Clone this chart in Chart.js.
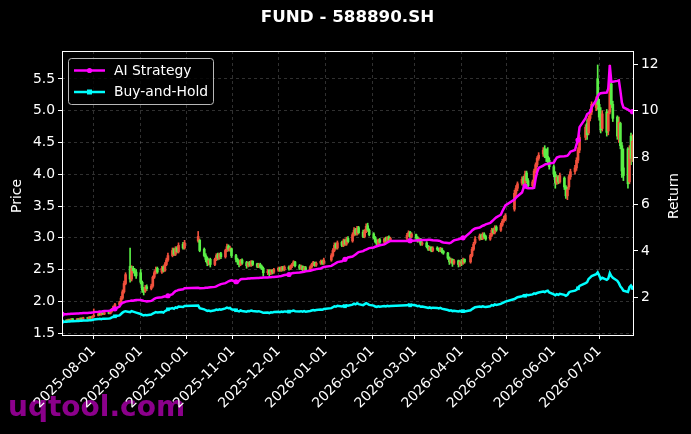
<!DOCTYPE html>
<html>
<head>
<meta charset="utf-8">
<title>FUND - 588890.SH</title>
<script src="https://cdn.jsdelivr.net/npm/chart.js@4.4.1/dist/chart.umd.min.js"></script>
<style>
  html, body { margin: 0; padding: 0; background: #000; }
  canvas { display: block; }
</style>
</head>
<body>
<canvas id="grafik" width="691" height="434"></canvas>
<script>
// --- veri ---------------------------------------------------------------
// ilk ve son islem gunu, tatiller (hafta sonlari zaten atlaniyor)
const ilkGun = '2025-07-11';
const sonGun = '2026-07-24';
const tatiller = [
  '2025-10-01', '2025-10-02', '2025-10-03', '2025-10-06', '2025-10-07', '2025-10-08',
  '2026-01-01', '2026-01-02',
  '2026-02-16', '2026-02-17', '2026-02-18', '2026-02-19', '2026-02-20', '2026-02-23',
  '2026-04-06', '2026-05-01', '2026-05-04', '2026-05-05', '2026-06-19'
];

// x ekseni etiketleri
const ayEtiketleri = [
  '2025-08-01', '2025-09-01', '2025-10-01', '2025-11-01', '2025-12-01', '2026-01-01',
  '2026-02-01', '2026-03-01', '2026-04-01', '2026-05-01', '2026-06-01', '2026-07-01'
];

// gunluk mum verisi (her satir bir ay)
const acilis = [
  1.69,1.70,1.69,1.71,1.70,1.72,1.71,1.72,1.71,1.73,1.72,1.74,1.73,1.75,1.74,
  1.76,1.78,1.80,1.79,1.81,1.80,1.82,1.81,1.84,1.88,1.92,1.95,1.98,2.05,2.15,2.28,2.55,2.35,2.52,2.48,2.46,
  2.45,2.30,2.20,2.16,2.23,2.20,2.24,2.38,2.45,2.52,2.46,2.54,2.48,2.58,2.65,2.72,2.82,2.74,2.84,2.78,2.90,2.84,
  2.95,2.96,2.82,2.72,2.68,2.60,2.66,2.58,2.66,2.73,2.68,2.75,2.70,2.80,2.87,2.80,2.83,
  2.72,2.66,2.63,2.58,2.65,2.61,2.56,2.61,2.57,2.63,2.59,2.55,2.58,2.55,2.52,2.45,2.49,2.44,2.49,2.46,
  2.49,2.52,2.49,2.53,2.50,2.54,2.51,2.55,2.58,2.62,2.56,2.52,2.55,2.50,2.53,2.50,2.54,2.58,2.61,2.57,2.60,2.63,2.60,
  2.65,2.72,2.80,2.90,2.84,2.93,2.88,2.96,2.90,2.99,2.95,3.05,3.13,3.06,3.16,3.09,3.02,3.10,3.19,3.12,
  3.06,3.00,2.95,2.90,2.97,2.93,2.99,2.95,3.01,2.96,2.99,3.04,3.09,3.02,
  3.05,3.00,2.95,2.98,2.90,2.92,2.86,2.82,2.85,2.80,2.84,2.82,2.80,2.83,2.79,2.76,2.68,2.62,2.66,2.60,2.64,2.58,
  2.62,2.60,2.66,2.62,2.72,2.82,2.92,2.98,3.04,2.99,3.06,3.02,2.98,3.04,3.13,3.08,3.17,3.12,3.20,3.26,3.29,
  3.45,3.70,3.78,3.86,3.94,3.86,4.02,3.90,3.82,3.88,4.05,4.15,4.25,4.32,4.40,4.32,4.28,4.22,
  4.12,4.00,3.86,3.96,3.88,3.94,3.80,3.66,3.80,3.96,4.04,4.10,4.22,4.38,4.58,4.80,4.65,4.88,4.98,5.05,5.50,
  5.10,4.92,4.72,4.98,4.68,4.98,5.42,5.10,4.90,4.58,4.80,4.45,4.10,4.40,3.88,4.60,4.25,4.50
];
const yuksek = [
  1.71,1.71,1.72,1.72,1.73,1.73,1.73,1.73,1.74,1.74,1.75,1.75,1.76,1.76,1.77,
  1.88,1.81,1.81,1.82,1.82,1.83,1.83,1.85,1.89,1.93,1.97,2.00,2.08,2.18,2.32,2.45,2.84,2.56,2.55,2.52,2.50,
  2.50,2.32,2.22,2.25,2.26,2.27,2.40,2.48,2.54,2.54,2.55,2.56,2.61,2.68,2.76,2.84,2.84,2.86,2.86,2.92,2.93,2.96,
  3.10,2.98,2.84,2.75,2.70,2.67,2.68,2.68,2.75,2.76,2.76,2.77,2.82,2.90,2.89,2.87,2.84,
  2.74,2.68,2.65,2.66,2.67,2.63,2.62,2.63,2.64,2.64,2.60,2.60,2.60,2.57,2.54,2.50,2.50,2.50,2.50,2.52,
  2.54,2.54,2.55,2.55,2.56,2.56,2.57,2.60,2.64,2.63,2.58,2.57,2.56,2.55,2.55,2.56,2.60,2.63,2.62,2.62,2.65,2.65,2.68,
  2.75,2.83,2.92,2.92,2.95,2.95,2.98,2.98,3.01,3.02,3.08,3.16,3.15,3.18,3.18,3.12,3.13,3.22,3.23,3.14,
  3.08,3.02,2.97,2.98,2.99,3.00,3.01,3.02,3.03,3.01,3.07,3.11,3.10,3.08,
  3.06,3.02,3.00,2.99,2.94,2.94,2.88,2.87,2.86,2.86,2.86,2.84,2.85,2.84,2.80,2.77,2.70,2.68,2.67,2.66,2.65,2.64,
  2.66,2.68,2.67,2.74,2.85,2.93,3.02,3.06,3.06,3.08,3.08,3.04,3.07,3.15,3.15,3.19,3.19,3.23,3.29,3.34,3.38,
  3.75,3.82,3.88,3.96,3.97,4.05,4.05,3.93,3.91,4.08,4.18,4.28,4.34,4.42,4.45,4.40,4.42,4.26,
  4.15,4.04,3.98,3.98,4.02,3.96,3.82,3.80,3.99,4.08,4.14,4.26,4.42,4.62,4.78,4.86,4.92,5.02,5.14,5.22,5.72,
  5.18,5.05,5.00,5.02,5.00,5.72,5.45,5.15,4.92,4.90,4.82,4.50,4.40,4.42,4.45,4.65,4.62,4.58
];
const dusuk = [
  1.68,1.68,1.68,1.69,1.69,1.70,1.70,1.70,1.70,1.71,1.71,1.72,1.72,1.73,1.73,
  1.75,1.77,1.78,1.78,1.79,1.79,1.80,1.80,1.83,1.87,1.91,1.94,1.97,2.03,2.13,2.26,2.30,2.32,2.45,2.40,2.36,
  2.27,2.14,2.10,2.14,2.17,2.18,2.22,2.36,2.43,2.44,2.44,2.46,2.47,2.56,2.63,2.70,2.72,2.72,2.76,2.76,2.82,2.82,
  2.93,2.78,2.70,2.62,2.56,2.57,2.54,2.56,2.64,2.65,2.66,2.67,2.68,2.78,2.79,2.79,2.69,
  2.62,2.58,2.54,2.56,2.58,2.52,2.54,2.55,2.55,2.56,2.53,2.53,2.52,2.50,2.40,2.42,2.39,2.42,2.43,2.44,
  2.47,2.47,2.47,2.48,2.48,2.49,2.50,2.53,2.56,2.54,2.50,2.50,2.48,2.48,2.47,2.48,2.52,2.56,2.55,2.55,2.58,2.58,2.58,
  2.63,2.70,2.78,2.82,2.82,2.86,2.86,2.88,2.88,2.92,2.93,3.03,3.04,3.04,3.06,3.00,3.00,3.08,3.10,3.03,
  2.98,2.92,2.87,2.88,2.91,2.91,2.93,2.93,2.94,2.94,2.97,3.02,3.00,3.00,
  2.97,2.93,2.93,2.88,2.88,2.84,2.80,2.80,2.78,2.78,2.80,2.78,2.78,2.76,2.74,2.66,2.58,2.60,2.55,2.58,2.54,2.55,
  2.56,2.58,2.60,2.60,2.70,2.80,2.90,2.96,2.97,2.97,2.99,2.96,2.96,3.02,3.06,3.06,3.10,3.10,3.18,3.24,3.27,
  3.42,3.66,3.74,3.83,3.84,3.84,3.86,3.78,3.79,3.86,4.02,4.12,4.22,4.28,4.26,4.20,4.15,4.08,
  3.96,3.78,3.84,3.85,3.86,3.76,3.62,3.60,3.76,3.92,4.00,4.06,4.18,4.34,4.54,4.55,4.62,4.84,4.94,5.00,5.02,
  4.85,4.65,4.68,4.60,4.62,4.95,5.05,4.83,4.55,4.50,4.40,3.95,3.90,3.78,3.85,4.15,4.20,4.10
];
const kapanis = [
  1.70,1.69,1.71,1.70,1.72,1.71,1.72,1.71,1.73,1.72,1.74,1.73,1.75,1.74,1.76,
  1.78,1.80,1.79,1.81,1.80,1.82,1.81,1.84,1.88,1.92,1.95,1.98,2.05,2.15,2.28,2.42,2.35,2.52,2.48,2.44,2.40,
  2.30,2.18,2.15,2.22,2.20,2.24,2.38,2.45,2.50,2.46,2.52,2.48,2.58,2.65,2.72,2.80,2.74,2.82,2.78,2.88,2.84,2.92,
  3.02,2.80,2.72,2.66,2.60,2.64,2.58,2.66,2.72,2.68,2.74,2.70,2.80,2.86,2.82,2.84,2.72,
  2.66,2.62,2.58,2.64,2.60,2.56,2.60,2.57,2.62,2.58,2.55,2.58,2.54,2.52,2.45,2.48,2.44,2.48,2.46,2.50,
  2.52,2.49,2.53,2.50,2.54,2.51,2.55,2.58,2.62,2.56,2.52,2.55,2.50,2.53,2.49,2.54,2.58,2.61,2.57,2.60,2.63,2.60,2.65,
  2.72,2.80,2.88,2.84,2.92,2.88,2.95,2.90,2.98,2.94,3.05,3.12,3.06,3.15,3.08,3.02,3.10,3.18,3.12,3.05,
  3.00,2.94,2.90,2.96,2.93,2.98,2.95,3.00,2.96,2.99,3.04,3.08,3.02,3.06,
  3.00,2.95,2.98,2.90,2.92,2.86,2.82,2.85,2.80,2.84,2.82,2.80,2.83,2.78,2.76,2.68,2.62,2.66,2.60,2.64,2.58,2.62,
  2.60,2.65,2.62,2.72,2.82,2.90,2.98,3.03,2.99,3.05,3.01,2.98,3.04,3.12,3.08,3.16,3.12,3.20,3.26,3.30,3.35,
  3.70,3.78,3.85,3.92,3.86,4.00,3.90,3.82,3.88,4.05,4.15,4.25,4.30,4.38,4.30,4.26,4.20,4.12,
  4.00,3.86,3.95,3.88,3.98,3.80,3.66,3.76,3.96,4.04,4.10,4.22,4.38,4.58,4.74,4.62,4.88,4.98,5.10,5.18,5.10,
  4.90,4.70,4.95,4.66,4.96,5.40,5.10,4.88,4.60,4.82,4.45,4.05,3.98,3.85,4.38,4.25,4.52,4.20
];

// getiri egrileri (sag eksen)
const aiStrateji = [
  1.29,1.29,1.30,1.30,1.31,1.31,1.32,1.32,1.33,1.33,1.34,1.34,1.35,1.35,1.36,
  1.38,1.40,1.41,1.40,1.42,1.43,1.44,1.45,1.48,1.50,1.52,1.62,1.72,1.78,1.80,1.83,1.86,1.88,1.87,1.89,1.90,
  1.90,1.88,1.86,1.85,1.84,1.86,1.90,1.95,1.98,2.00,2.02,2.04,2.06,2.04,2.08,2.15,2.22,2.28,2.30,2.33,2.36,2.40,
  2.42,2.40,2.41,2.42,2.42,2.43,2.44,2.46,2.48,2.52,2.55,2.58,2.62,2.66,2.70,2.72,2.74,
  2.68,2.64,2.72,2.78,2.80,2.81,2.82,2.82,2.83,2.83,2.84,2.84,2.85,2.85,2.86,2.86,2.87,2.87,2.88,2.88,
  2.90,2.92,2.93,2.95,2.97,2.99,3.02,3.04,3.05,3.06,3.08,3.09,3.10,3.11,3.13,3.15,3.17,3.19,3.20,3.22,3.25,3.28,3.31,
  3.36,3.40,3.44,3.48,3.52,3.56,3.60,3.64,3.68,3.72,3.76,3.80,3.85,3.90,3.95,3.99,4.03,4.06,4.09,4.12,
  4.15,4.18,4.20,4.22,4.24,4.28,4.32,4.36,4.40,4.42,4.43,4.43,4.44,4.44,
  4.45,4.46,4.46,4.47,4.47,4.47,4.48,4.48,4.47,4.46,4.45,4.44,4.42,4.38,4.36,4.34,4.33,4.35,4.40,4.45,4.50,4.52,
  4.54,4.56,4.58,4.80,4.88,4.92,4.96,5.00,5.04,5.08,5.10,5.14,5.20,5.26,5.32,5.38,5.44,5.55,5.70,5.82,5.95,
  6.20,6.28,6.34,6.50,6.70,6.78,6.70,6.68,6.68,6.70,7.10,7.38,7.55,7.65,7.70,7.72,7.72,7.74,
  7.78,7.90,8.00,8.02,8.04,8.05,8.06,8.08,8.15,8.25,8.32,8.55,8.75,9.30,9.68,9.85,9.90,9.95,10.15,10.45,10.62,
  10.72,10.75,10.76,10.78,10.95,11.96,11.25,11.24,11.28,11.30,10.85,10.35,10.15,10.05,10.00,9.98,9.96,9.96
];
const alTut = [
  0.97,0.97,0.98,0.98,0.99,0.99,1.00,1.00,1.01,1.01,1.02,1.02,1.03,1.03,1.04,
  1.06,1.08,1.09,1.08,1.10,1.10,1.11,1.12,1.15,1.18,1.20,1.24,1.30,1.36,1.40,1.42,1.38,1.42,1.40,1.38,1.36,
  1.30,1.26,1.24,1.26,1.25,1.28,1.32,1.35,1.38,1.36,1.38,1.36,1.42,1.45,1.50,1.55,1.52,1.58,1.56,1.62,1.60,1.64,
  1.66,1.55,1.50,1.46,1.43,1.45,1.42,1.46,1.49,1.47,1.50,1.48,1.54,1.57,1.55,1.56,1.50,
  1.46,1.43,1.41,1.45,1.43,1.40,1.43,1.42,1.45,1.43,1.41,1.42,1.40,1.38,1.35,1.36,1.34,1.37,1.36,1.38,
  1.39,1.38,1.40,1.39,1.41,1.40,1.42,1.43,1.45,1.42,1.41,1.42,1.40,1.42,1.40,1.43,1.45,1.47,1.45,1.47,1.49,1.48,1.51,
  1.55,1.59,1.63,1.61,1.65,1.62,1.66,1.63,1.67,1.65,1.70,1.74,1.71,1.76,1.72,1.68,1.72,1.76,1.73,1.69,
  1.66,1.62,1.60,1.63,1.61,1.64,1.62,1.65,1.63,1.64,1.67,1.70,1.67,1.69,
  1.66,1.63,1.65,1.61,1.62,1.58,1.56,1.58,1.55,1.57,1.56,1.54,1.56,1.53,1.51,1.47,1.44,1.46,1.42,1.44,1.41,1.43,
  1.40,1.42,1.41,1.46,1.51,1.55,1.59,1.62,1.60,1.63,1.61,1.60,1.63,1.68,1.66,1.71,1.69,1.73,1.77,1.80,1.83,
  1.94,1.98,2.02,2.06,2.10,2.08,2.12,2.10,2.14,2.18,2.16,2.20,2.22,2.26,2.24,2.28,2.30,2.22,
  2.14,2.10,2.15,2.12,2.16,2.12,2.08,2.12,2.22,2.26,2.30,2.34,2.40,2.50,2.62,2.66,2.80,2.86,2.92,3.00,3.08,
  2.95,2.80,2.85,2.76,2.82,3.05,2.92,2.85,2.72,2.62,2.48,2.40,2.30,2.24,2.45,2.52,2.42,2.36
];

// --- yardimcilar --------------------------------------------------------
const GUN_MS = 86400000;
const REF = Date.UTC(2025, 7, 1);
function gunNo(s) {
  const [y, m, d] = s.split('-').map(Number);
  return (Date.UTC(y, m - 1, d) - REF) / GUN_MS;
}
function tarihYaz(n) {
  return new Date(REF + n * GUN_MS).toISOString().slice(0, 10);
}

// islem gunleri takvimi
const islemGunleri = [];
for (let n = gunNo(ilkGun); n <= gunNo(sonGun); n++) {
  const t = new Date(REF + n * GUN_MS);
  const wd = t.getUTCDay();
  if (wd === 0 || wd === 6) continue;
  if (tatiller.includes(tarihYaz(n))) continue;
  islemGunleri.push(n);
}
if (islemGunleri.length !== kapanis.length) {
  console.error('gun sayisi tutmuyor', islemGunleri.length, kapanis.length);
}

const YUKARI = '#f0503c';   // kirmizi: yukselis
const ASAGI = '#5aef46';    // yesil: dusus
const renkler = kapanis.map((c, i) => c >= acilis[i] ? YUKARI : ASAGI);

const FONT = "'DejaVu Sans', sans-serif";
const YAZI = 13.9;
const GRID = 'rgba(176,176,176,0.35)';

// --- cerceve, baslik, lejant, filigran ------------------------------------
const susleme = {
  id: 'susleme',
  beforeDraw(chart) {
    const ctx = chart.ctx;
    ctx.save();
    ctx.fillStyle = '#000';
    ctx.fillRect(0, 0, chart.width, chart.height);
    // filigran, eksen yazilarinin altinda kalsin
    ctx.fillStyle = 'rgb(139,0,139)';
    ctx.font = 'bold 28px ' + FONT;
    ctx.textAlign = 'left';
    ctx.textBaseline = 'alphabetic';
    ctx.fillText('uqtool.com', 8, 416);
    ctx.restore();
  },
  afterDraw(chart) {
    const { ctx, chartArea: a } = chart;
    ctx.save();

    // cerceve
    ctx.strokeStyle = '#fff';
    ctx.lineWidth = 1;
    ctx.strokeRect(Math.round(a.left) + 0.5, Math.round(a.top) + 0.5,
      Math.round(a.right - a.left) - 1, Math.round(a.bottom - a.top));

    // baslik
    ctx.fillStyle = '#fff';
    ctx.font = 'bold 16.7px ' + FONT;
    ctx.textAlign = 'center';
    ctx.textBaseline = 'middle';
    ctx.fillText('FUND - 588890.SH', chart.width / 2 + 2, 18);

    // eksen basliklari
    ctx.font = YAZI + 'px ' + FONT;
    const orta = 196;
    ctx.save();
    ctx.translate(17, orta);
    ctx.rotate(-Math.PI / 2);
    ctx.fillText('Price', 0, 0);
    ctx.restore();
    ctx.save();
    ctx.translate(674, orta);
    ctx.rotate(-Math.PI / 2);
    ctx.fillText('Return', 0, 0);
    ctx.restore();

    // lejant
    const lx = 68.5, ly = 58.5, lw = 145, lh = 46;
    ctx.beginPath();
    ctx.roundRect(lx, ly, lw, lh, 3);
    ctx.fillStyle = 'rgba(0,0,0,0.8)';
    ctx.fill();
    ctx.strokeStyle = 'rgba(204,204,204,0.9)';
    ctx.lineWidth = 1;
    ctx.stroke();
    const satirlar = [
      { ad: 'AI Strategy', renk: '#ff00ff', y: 70.5, kare: false },
      { ad: 'Buy-and-Hold', renk: '#00ffff', y: 92, kare: true }
    ];
    satirlar.forEach(s => {
      ctx.strokeStyle = s.renk;
      ctx.lineWidth = 2.5;
      ctx.beginPath();
      ctx.moveTo(74, s.y);
      ctx.lineTo(105, s.y);
      ctx.stroke();
      ctx.fillStyle = s.renk;
      if (s.kare) {
        ctx.fillRect(87, s.y - 2.5, 5, 5);
      } else {
        ctx.beginPath();
        ctx.arc(89.5, s.y, 2.6, 0, Math.PI * 2);
        ctx.fill();
      }
      ctx.fillStyle = '#fff';
      ctx.font = YAZI + 'px ' + FONT;
      ctx.textAlign = 'left';
      ctx.textBaseline = 'middle';
      ctx.fillText(s.ad, 114, s.y + 0.5);
    });

    ctx.restore();
  }
};

// --- grafik --------------------------------------------------------------
const noktaYaricap = c => (c.dataIndex % 25 === 0 ? 2.6 : 0);

new Chart(document.getElementById('grafik'), {
  type: 'bar',
  data: {
    datasets: [
      {
        type: 'line',
        label: 'AI Strategy',
        data: islemGunleri.map((x, i) => ({ x, y: aiStrateji[i] })),
        yAxisID: 'y2',
        borderColor: '#ff00ff',
        backgroundColor: '#ff00ff',
        borderWidth: 2.5,
        pointStyle: 'circle',
        pointRadius: noktaYaricap,
        pointBorderWidth: 0,
        tension: 0,
        order: 0
      },
      {
        type: 'line',
        label: 'Buy-and-Hold',
        data: islemGunleri.map((x, i) => ({ x, y: alTut[i] })),
        yAxisID: 'y2',
        borderColor: '#00ffff',
        backgroundColor: '#00ffff',
        borderWidth: 2.5,
        pointStyle: 'rect',
        pointRadius: noktaYaricap,
        pointBorderWidth: 0,
        tension: 0,
        order: 1
      },
      {
        label: 'govde',
        data: islemGunleri.map((x, i) => ({ x, y: [acilis[i], kapanis[i]] })),
        yAxisID: 'y',
        backgroundColor: renkler,
        barThickness: 2,
        minBarLength: 1,
        grouped: false,
        borderWidth: 0,
        order: 2
      },
      {
        label: 'fitil',
        data: islemGunleri.map((x, i) => ({ x, y: [dusuk[i], yuksek[i]] })),
        yAxisID: 'y',
        backgroundColor: renkler,
        barThickness: 1,
        grouped: false,
        borderWidth: 0,
        order: 3
      }
    ]
  },
  options: {
    responsive: false,
    animation: false,
    layout: { padding: { top: 51, left: 0, right: 0, bottom: 0 } },
    plugins: {
      legend: { display: false },
      tooltip: { enabled: false },
      title: { display: false }
    },
    scales: {
      x: {
        type: 'linear',
        min: gunNo(ilkGun),
        max: gunNo(sonGun),
        offset: false,
        grid: { color: GRID, lineWidth: 0.8, offset: false, tickColor: '#fff', tickLength: 4, tickWidth: 1 },
        border: { display: false, dash: [3, 3] },
        ticks: {
          color: '#fff',
          font: { family: FONT, size: YAZI },
          minRotation: 45,
          maxRotation: 45,
          autoSkip: false,
          padding: 4,
          callback: v => tarihYaz(v)
        },
        afterBuildTicks: s => { s.ticks = ayEtiketleri.map(t => ({ value: gunNo(t) })); },
        afterFit: s => { s.height = 99; }
      },
      y: {
        position: 'left',
        min: 1.47,
        max: 5.94,
        grid: { color: GRID, lineWidth: 0.8, tickColor: '#fff', tickLength: 4, tickWidth: 1 },
        border: { display: false, dash: [3, 3] },
        ticks: {
          color: '#fff',
          font: { family: FONT, size: YAZI },
          stepSize: 0.5,
          includeBounds: false,
          callback: v => v.toFixed(1)
        },
        afterFit: s => { s.width = 62; }
      },
      y2: {
        position: 'right',
        min: 0.40,
        max: 12.56,
        grid: { drawOnChartArea: false, tickColor: '#fff', tickLength: 4, tickWidth: 1 },
        border: { display: false },
        ticks: {
          color: '#fff',
          font: { family: FONT, size: YAZI },
          stepSize: 2,
          includeBounds: false
        },
        afterFit: s => { s.width = 57; }
      }
    }
  },
  plugins: [susleme]
});
</script>
</body>
</html>
